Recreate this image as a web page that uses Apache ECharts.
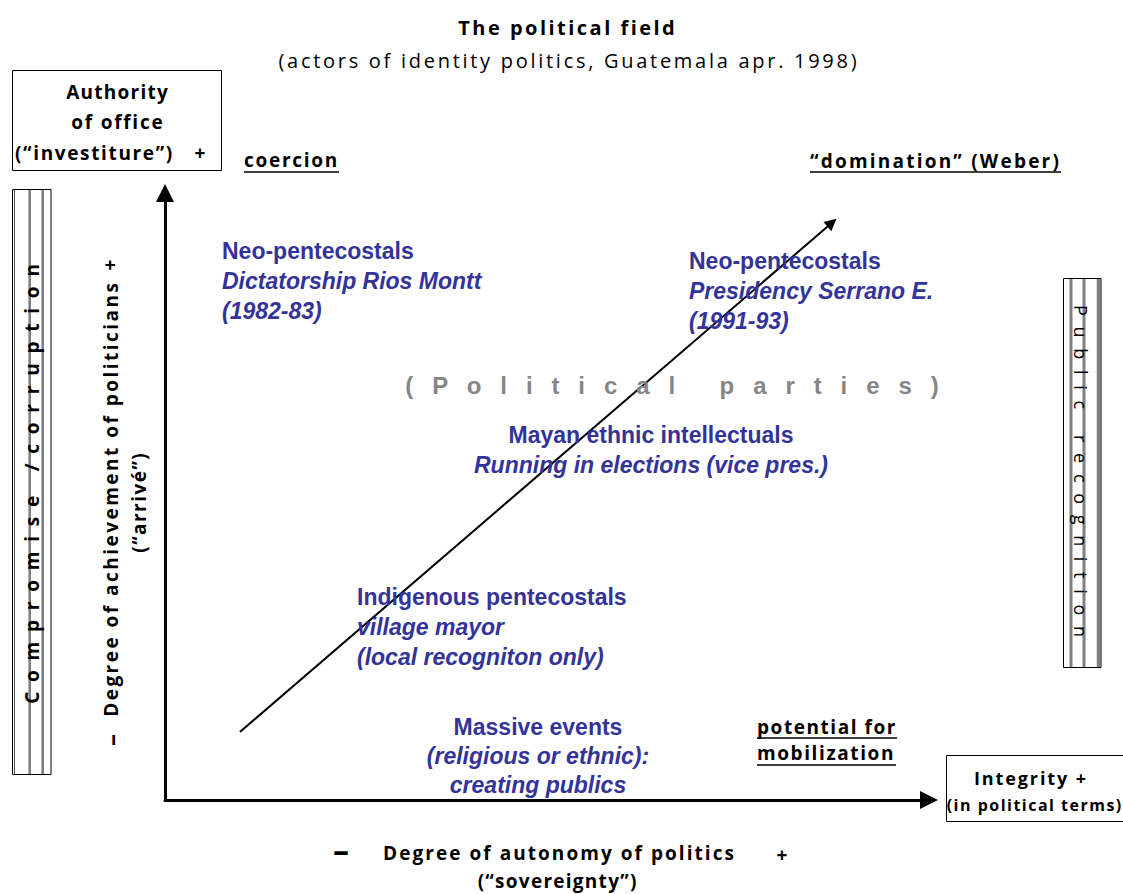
<!DOCTYPE html>
<html><head><meta charset="utf-8">
<script src="https://cdn.jsdelivr.net/npm/echarts@6/dist/echarts.min.js"></script>
<style>html,body{margin:0;padding:0;background:#fff}#c{width:1123px;height:894px}#c text{white-space:pre}</style>
</head><body><div id="c"></div>
<script>
// ---- content (texts / values) ----
const chartTitle = 'The political field';
const chartSubtitle = '(actors of identity politics, Guatemala apr. 1998)';
const yPoleBox = ['Authority', 'of office', '(“investiture”)', '+'];
const cornerTopLeft = 'coercion';
const cornerTopRight = '“domination” (Weber)';
const cornerBottomRight = ['potential for', 'mobilization'];
const xPoleBox = ['Integrity +', '(in political terms)'];
const yAxisName = ['–', 'Degree of achievement of politicians', '+', '(“arrivé”)'];
const xAxisName = ['–', 'Degree of autonomy of politics', '+', '(“sovereignty”)'];
const leftBand = 'C o m p r o m i s e   / c o r r u p t i o n';
const rightBand = 'P u b l i c   r e c o g n i t i o n';
const centreLabel = '( P o l i t i c a l   p a r t i e s )';
const actorHeads = ['Neo-pentecostals', 'Neo-pentecostals', 'Mayan ethnic intellectuals', 'Indigenous pentecostals', 'Massive events'];
const actorDetails = [
  ['Dictatorship Rios Montt', '(1982-83)'],
  ['Presidency Serrano E.', '(1991-93)'],
  ['Running in elections (vice pres.)'],
  ['village mayor', '(local recogniton only)'],
  ['(religious or ethnic):', 'creating publics']
];
// diagonal trend arrow, in axis units (0..100 on both axes)
const trendArrow = [[9.8, 11.2], [87.3, 95.1]];

// ---- layout (pixels) ----
const actorAnchors = [[222, 251, 'left', 30], [689, 261, 'left', 30], [651, 435, 'center', 30], [357, 597, 'left', 30], [538, 727, 'center', 29]];
const BLACK_FONT = '"Open Sans", "DejaVu Sans", sans-serif';
const BLUE_FONT = '"Liberation Sans", Arial, sans-serif';
const BLUE = '#333399';

const mctx = document.createElement('canvas').getContext('2d');
function tw(text, size, weight, family) { mctx.font = (weight || 'bold') + ' ' + size + 'px ' + family; return mctx.measureText(text).width; }

function txt(text, x, y, o) {
  o = o || {};
  const align = o.align || 'left';
  return {
    type: 'text', x: x, y: y, rotation: o.rot || 0, silent: true, z: 10,
    style: {
      text: text, fill: o.color || '#000', fontSize: o.size || 19,
      fontWeight: o.weight || 'bold', fontStyle: o.italic ? 'italic' : 'normal',
      fontFamily: o.family || BLACK_FONT,
      align: align, textAlign: align, verticalAlign: 'middle', textVerticalAlign: 'middle'
    }
  };
}
// text stretched to a target width through letter spacing (the reference uses expanded character spacing)
const tracking = {};
function tracked(text, x, y, target, o) {
  o = o || {};
  const nat = tw(text, o.size || 19, o.weight || 'bold', o.family || BLACK_FONT);
  const n = Array.from(text).length;
  const ls = (target - nat) / n;
  tracking[text] = ls;
  if ((o.align || 'left') === 'center') {
    const r = o.rot || 0;
    x += Math.cos(r) * ls / 2;
    y -= Math.sin(r) * ls / 2;
  }
  return txt(text, x, y, o);
}
function ln(x1, y1, x2, y2, color, w) {
  return { type: 'line', silent: true, z: 5, shape: { x1: x1, y1: y1, x2: x2, y2: y2 }, style: { stroke: color || '#000', lineWidth: w || 1 } };
}
function box(x, y, w, h) {
  return { type: 'rect', silent: true, z: 6, shape: { x: x, y: y, width: w, height: h }, style: { fill: 'transparent', stroke: '#000', lineWidth: 1 } };
}

const g = [];
// title
g.push(tracked(chartTitle, 566.5, 27, 219, { align: 'center', size: 20 }));
g.push(tracked(chartSubtitle, 567.5, 60, 581, { align: 'center', size: 20, weight: 'normal' }));
// top-left pole box
g.push(box(12.5, 70.5, 209, 100));
g.push(tracked(yPoleBox[0], 117, 92, 103, { align: 'center', size: 19 }));
g.push(tracked(yPoleBox[1], 117, 122, 93, { align: 'center', size: 19 }));
g.push(tracked(yPoleBox[2], 15, 153, 159, { size: 19 }));
g.push(txt(yPoleBox[3], 200, 153, { align: 'center', size: 19 }));
// corner labels with underline
g.push(tracked(cornerTopLeft, 244, 160, 95, { size: 19 }));
g.push(ln(244, 172, 339, 172, '#000', 1.5));
g.push(tracked(cornerTopRight, 810, 161, 251, { size: 19 }));
g.push(ln(810, 172, 1061, 172, '#000', 1.5));
g.push(tracked(cornerBottomRight[0], 757, 727, 140, { size: 19 }));
g.push(ln(757, 738, 897, 738, '#000', 1.5));
g.push(tracked(cornerBottomRight[1], 757, 753, 138, { size: 19 }));
g.push(ln(757, 765, 896, 765, '#000', 1.5));
// right pole box
g.push(box(946.5, 755.5, 200, 66));
g.push(tracked(xPoleBox[0], 1030, 778, 114, { align: 'center', size: 18 }));
g.push(tracked(xPoleBox[1], 1034, 805, 176, { align: 'center', size: 16 }));
// left striped band
g.push(box(12.5, 189.5, 38.5, 585));
g.push(ln(14.5, 190, 14.5, 774, '#555', 1));
g.push(ln(29.7, 190, 29.7, 774, '#808080', 2.6));
g.push(ln(42.7, 190, 42.7, 774, '#808080', 2.6));
g.push(tracked(leftBand, 32, 484, 442, { align: 'center', size: 19, rot: Math.PI / 2 }));
// right striped band
g.push(box(1063.5, 278.5, 37.5, 389));
g.push(ln(1071, 279, 1071, 667, '#808080', 3));
g.push(ln(1084, 279, 1084, 667, '#808080', 3));
g.push(ln(1098.5, 279, 1098.5, 667, '#808080', 3.5));
g.push(tracked(rightBand, 1081, 471, 335, { align: 'center', size: 18, weight: 'normal', rot: -Math.PI / 2 }));
// y axis name
g.push(txt(yAxisName[0], 110, 740, { align: 'center', size: 24, rot: Math.PI / 2 }));
g.push(tracked(yAxisName[1], 111, 500, 436, { align: 'center', size: 19, rot: Math.PI / 2 }));
g.push(txt(yAxisName[2], 110, 265, { align: 'center', size: 19, rot: Math.PI / 2 }));
g.push(tracked(yAxisName[3], 139, 503, 101, { align: 'center', size: 19, rot: Math.PI / 2 }));
// x axis name
g.push(txt(xAxisName[0], 341, 849, { align: 'center', size: 32 }));
g.push(tracked(xAxisName[1], 558.5, 853, 353, { align: 'center', size: 19 }));
g.push(txt(xAxisName[2], 782, 855, { align: 'center', size: 19 }));
g.push(tracked(xAxisName[3], 557, 881, 160, { align: 'center', size: 19 }));
// centre label
g.push(tracked(centreLabel, 672, 385, 540, { align: 'center', size: 24, color: '#868686', family: BLUE_FONT }));
// actors
actorHeads.forEach(function (head, i) {
  const a = actorAnchors[i];
  g.push(txt(head, a[0], a[1], { align: a[2], size: 23, color: BLUE, family: BLUE_FONT }));
  actorDetails[i].forEach(function (line, j) {
    g.push(txt(line, a[0], a[1] + a[3] * (j + 1), { align: a[2], size: 23, color: BLUE, family: BLUE_FONT, italic: true }));
  });
});

const axisCommon = {
  type: 'value', min: 0, max: 100,
  axisLine: { show: true, onZero: false, symbol: ['none', 'triangle'], symbolSize: [18, 18], lineStyle: { color: '#000', width: 3 } },
  axisTick: { show: false }, axisLabel: { show: false }, splitLine: { show: false }
};

const chart = echarts.init(document.getElementById('c'), null, { renderer: 'svg' });
chart.setOption({
  animation: false,
  backgroundColor: '#fff',
  grid: { left: 165, right: 194, top: 193, bottom: 94 },
  xAxis: axisCommon,
  yAxis: axisCommon,
  series: [{
    type: 'lines', coordinateSystem: 'cartesian2d', silent: true,
    symbol: ['none', 'triangle'], symbolSize: 12,
    lineStyle: { color: '#000', width: 2, opacity: 1, curveness: 0 },
    data: [{ coords: trendArrow }]
  }],
  graphic: { elements: g }
});
function applyTracking() {
  document.querySelectorAll('#c text').forEach(function (t) {
    const ls = tracking[t.textContent];
    if (ls !== undefined) t.style.letterSpacing = ls.toFixed(2) + 'px';
  });
}
applyTracking();
chart.on('finished', applyTracking);
setTimeout(applyTracking, 30);
</script>
</body></html>
